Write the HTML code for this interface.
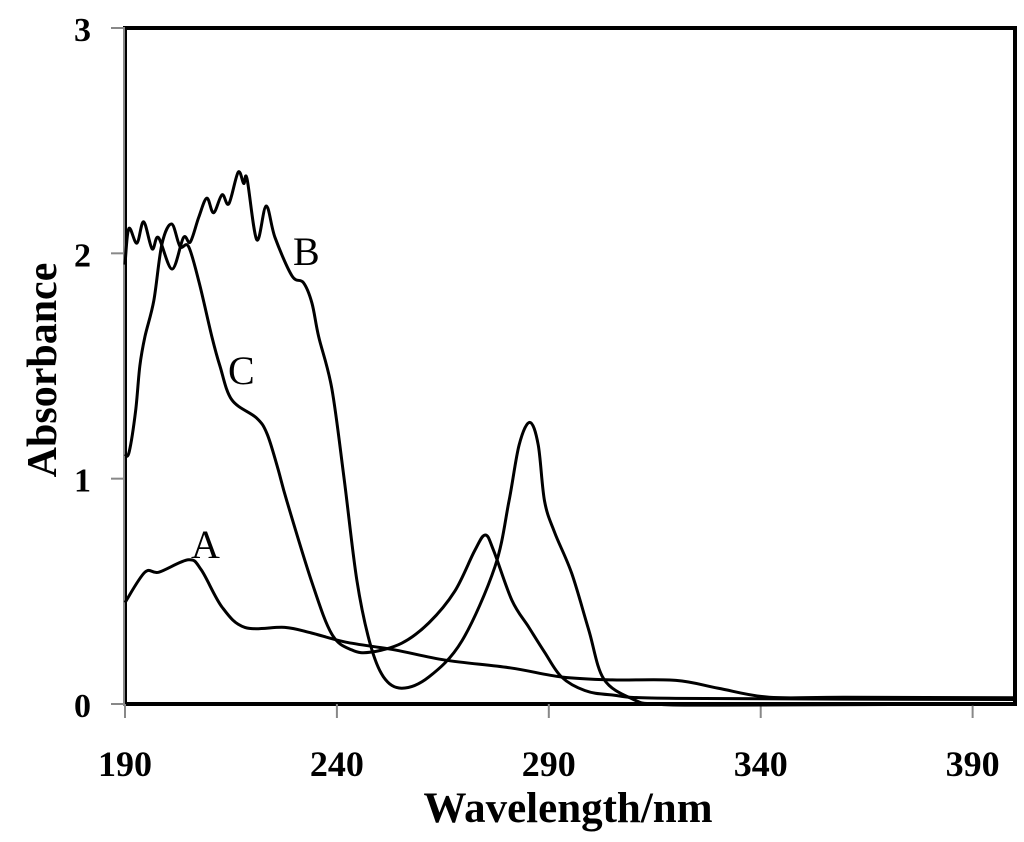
<!DOCTYPE html>
<html><head><meta charset="utf-8"><style>
html,body{margin:0;padding:0;background:#fff;}
svg{display:block;font-family:"Liberation Serif",serif;}
</style></head><body>
<svg id="chart" width="1024" height="842" viewBox="0 0 1024 842">
<g id="axes"></g>
<g id="series"></g>
<text x="0" y="0" transform="translate(56,370) rotate(-90)" text-anchor="middle" font-size="42" font-weight="bold">Absorbance</text>
<text x="568" y="822" text-anchor="middle" font-size="43" font-weight="bold">Wavelength/nm</text>
<text x="293" y="265" font-size="40">B</text>
<text x="228" y="384" font-size="40">C</text>
<text x="191" y="558" font-size="40">A</text>
</svg>
<script>
const xTicks=[190,240,290,340,390];
const yTicks=[0,1,2,3];
const wlA=[190,194.7,198,205,208,212.9,218.3,227.7,234,242,253.7,265.5,281,293,305,320,330,342,360,400];
const absA=[0.45,0.585,0.585,0.64,0.595,0.43,0.34,0.34,0.315,0.275,0.24,0.195,0.16,0.12,0.107,0.105,0.07,0.03,0.03,0.028];
const wlB=[190,190.9,192.8,194.4,196.4,197.9,201.1,203.8,205.4,207.4,209.3,210.9,212.9,214.5,216.7,218,218.8,221.1,223.3,225.4,229.4,232.1,234.1,235.7,238.8,241.7,244.7,247.8,251,255.3,261.7,269.5,277.3,280.6,283,285.5,287.5,289,291.4,295.4,299.4,303,310,315,330,400];
const absB=[1.95,2.11,2.045,2.14,2.02,2.07,1.93,2.07,2.05,2.16,2.245,2.18,2.26,2.22,2.36,2.31,2.33,2.06,2.21,2.07,1.9,1.87,1.78,1.63,1.4,1.0,0.55,0.27,0.12,0.07,0.12,0.28,0.61,0.9,1.15,1.25,1.15,0.9,0.76,0.58,0.33,0.11,0.02,0.0,-0.005,0.0];
const wlC=[190,191,192.5,193.5,194.7,196.8,198.7,201,203,205,207.5,210.5,212.4,215.2,221,223.5,226,228.2,234.1,238.8,243.5,248,255.3,261.7,267.8,272.5,275,277,281.3,285.3,289,293,298.5,305,320,400];
const absC=[1.1,1.12,1.3,1.5,1.63,1.79,2.04,2.13,2.03,2.03,1.87,1.63,1.5,1.35,1.27,1.2,1.05,0.9,0.54,0.31,0.24,0.23,0.27,0.36,0.5,0.68,0.75,0.68,0.46,0.34,0.23,0.12,0.06,0.04,0.025,0.02];
const X0=125,X1=1015,Y0=704,Y1=28;
const xs=v=>X0+(v-190)*(X1-X0)/210;
const ys=v=>Y0-v*(Y0-Y1)/3;
const NS='http://www.w3.org/2000/svg';
const axes=document.getElementById('axes');
function mk(t,a,p){const e=document.createElementNS(NS,t);for(const k in a)e.setAttribute(k,a[k]);p.appendChild(e);return e;}
const frame=mk('rect',{x:X0,y:Y1,width:X1-X0,height:Y0-Y1,fill:'none',stroke:'#000','stroke-width':4},axes);


const la=mk('line',{x1:X0-1,y1:Y1,x2:X0-1,y2:Y0+2,stroke:'#888','stroke-width':2},axes);


xTicks.forEach(t=>{
  const tk=mk('line',{x1:xs(t),y1:Y0,x2:xs(t),y2:Y0+14,stroke:'#888','stroke-width':2},axes);
  
  
  const tx=mk('text',{x:xs(t),y:776,'text-anchor':'middle','font-size':36,'font-weight':'bold'},axes);
  tx.textContent=t;
  
  
});
yTicks.forEach(t=>{
  const tk=mk('line',{x1:X0-14,y1:ys(t),x2:X0,y2:ys(t),stroke:'#888','stroke-width':2},axes);
  
  
  const tx=mk('text',{x:91,y:ys(t)+13,'text-anchor':'end','font-size':34,'font-weight':'bold'},axes);
  tx.textContent=t;
  
  
});
function curve(wl,ab){
  const p=wl.map((w,i)=>[xs(w),ys(ab[i])]);
  let d='M'+p[0][0]+','+p[0][1];
  for(let i=0;i<p.length-1;i++){
    const p0=p[i-1]||p[i],p1=p[i],p2=p[i+1],p3=p[i+2]||p2;
    const c1=[p1[0]+(p2[0]-p0[0])/6,p1[1]+(p2[1]-p0[1])/6];
    const c2=[p2[0]-(p3[0]-p1[0])/6,p2[1]-(p3[1]-p1[1])/6];
    d+=' C'+c1+' '+c2+' '+p2;
  }
  return d;
}
const ser=document.getElementById('series');
[['curve-a',wlA,absA],['curve-b',wlB,absB],['curve-c',wlC,absC]].forEach(s=>{
  const e=mk('path',{d:curve(s[1],s[2]),fill:'none',stroke:'#000','stroke-width':3,'stroke-linejoin':'round'},ser);
  
  
});
</script>
</body></html>
